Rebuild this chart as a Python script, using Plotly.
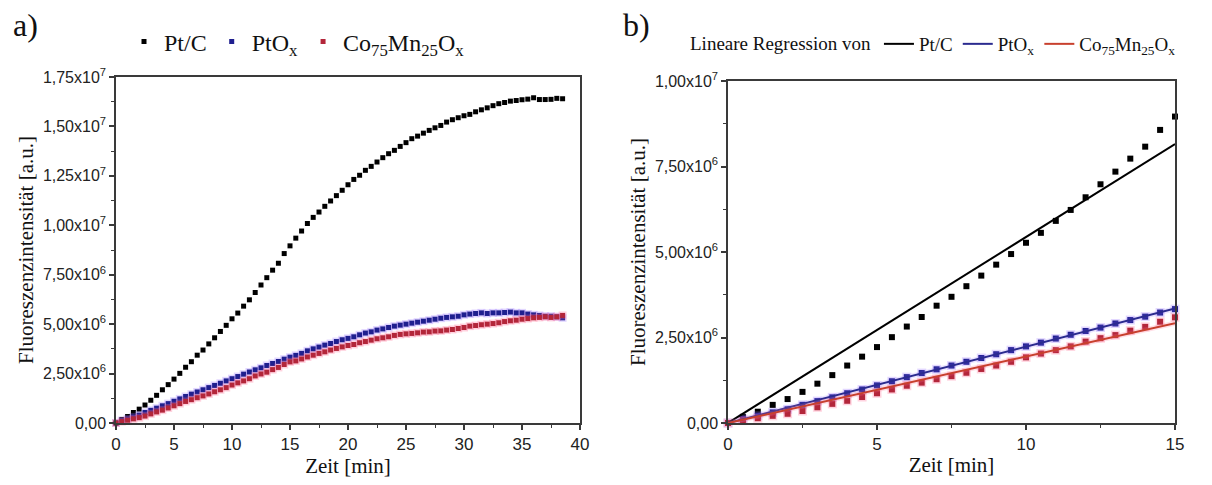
import plotly.graph_objects as go

# ---------------- data (intensities in units of 1e6 a.u.) ----------------
time_min = [0.0, 0.5, 1.0, 1.5, 2.0, 2.5, 3.0, 3.5, 4.0, 4.5,
            5.0, 5.5, 6.0, 6.5, 7.0, 7.5, 8.0, 8.5, 9.0, 9.5,
            10.0, 10.5, 11.0, 11.5, 12.0, 12.5, 13.0, 13.5, 14.0, 14.5,
            15.0, 15.5, 16.0, 16.5, 17.0, 17.5, 18.0, 18.5, 19.0, 19.5,
            20.0, 20.5, 21.0, 21.5, 22.0, 22.5, 23.0, 23.5, 24.0, 24.5,
            25.0, 25.5, 26.0, 26.5, 27.0, 27.5, 28.0, 28.5, 29.0, 29.5,
            30.0, 30.5, 31.0, 31.5, 32.0, 32.5, 33.0, 33.5, 34.0, 34.5,
            35.0, 35.5, 36.0, 36.5, 37.0, 37.5, 38.0, 38.5]

pt_c = [0.00, 0.18, 0.33, 0.53, 0.70, 0.91, 1.15, 1.40, 1.68, 1.94,
        2.22, 2.51, 2.82, 3.10, 3.43, 3.69, 4.00, 4.31, 4.63, 4.94,
        5.27, 5.56, 5.91, 6.23, 6.60, 6.98, 7.35, 7.73, 8.08, 8.57,
        8.96, 9.35, 9.71, 10.09, 10.40, 10.67, 10.96, 11.23, 11.50, 11.77,
        12.05, 12.32, 12.53, 12.78, 12.98, 13.20, 13.42, 13.62, 13.79, 13.99,
        14.18, 14.38, 14.51, 14.66, 14.80, 14.93, 15.05, 15.22, 15.34, 15.44,
        15.54, 15.61, 15.74, 15.84, 15.94, 16.05, 16.15, 16.21, 16.28, 16.31,
        16.35, 16.38, 16.45, 16.36, 16.36, 16.37, 16.42, 16.40]

pt_ox = [0.00, 0.12, 0.21, 0.31, 0.40, 0.53, 0.64, 0.75, 0.87, 0.98,
         1.10, 1.22, 1.34, 1.46, 1.57, 1.68, 1.79, 1.90, 2.01, 2.13,
         2.24, 2.35, 2.47, 2.58, 2.69, 2.79, 2.91, 3.01, 3.11, 3.23,
         3.33, 3.42, 3.52, 3.65, 3.75, 3.84, 3.94, 4.02, 4.12, 4.21,
         4.28, 4.36, 4.46, 4.55, 4.61, 4.70, 4.76, 4.83, 4.90, 4.95,
         5.00, 5.05, 5.10, 5.15, 5.20, 5.25, 5.30, 5.34, 5.37, 5.40,
         5.47, 5.51, 5.54, 5.57, 5.54, 5.57, 5.57, 5.59, 5.61, 5.57,
         5.57, 5.51, 5.47, 5.44, 5.40, 5.40, 5.37, 5.32]

co75_mn25_ox = [0.00, 0.07, 0.14, 0.21, 0.27, 0.35, 0.46, 0.56, 0.65, 0.76,
                0.87, 0.98, 1.09, 1.18, 1.28, 1.37, 1.47, 1.58, 1.68, 1.79,
                1.92, 2.03, 2.13, 2.24, 2.38, 2.48, 2.57, 2.70, 2.81, 2.96,
                3.09, 3.14, 3.24, 3.34, 3.43, 3.52, 3.60, 3.69, 3.77, 3.85,
                3.92, 3.97, 4.06, 4.12, 4.19, 4.26, 4.31, 4.36, 4.43, 4.48,
                4.51, 4.53, 4.56, 4.60, 4.61, 4.65, 4.66, 4.70, 4.73, 4.78,
                4.83, 4.90, 4.93, 4.97, 5.00, 5.03, 5.07, 5.13, 5.17, 5.20,
                5.25, 5.28, 5.32, 5.34, 5.37, 5.34, 5.37, 5.44]

series_names = ["Pt/C", "PtO<sub>x</sub>", "Co<sub>75</sub>Mn<sub>25</sub>O<sub>x</sub>"]
fit_window_max_min = 15.0

y_tickvals_a = [0, 2.5, 5, 7.5, 10, 12.5, 15, 17.5]
y_ticktext_a = ["0,00", "2,50x10<sup>6</sup>", "5,00x10<sup>6</sup>", "7,50x10<sup>6</sup>",
                "1,00x10<sup>7</sup>", "1,25x10<sup>7</sup>", "1,50x10<sup>7</sup>",
                "1,75x10<sup>7</sup>"]
y_tickvals_b = [0, 2.5, 5, 7.5, 10]
y_ticktext_b = ["0,00", "2,50x10<sup>6</sup>", "5,00x10<sup>6</sup>", "7,50x10<sup>6</sup>",
                "1,00x10<sup>7</sup>"]
x_tickvals_a = [0, 5, 10, 15, 20, 25, 30, 35, 40]
x_tickvals_b = [0, 5, 10, 15]

# ---------------- styling ----------------
marker_colors = ["#000000", "#1f1f8f", "#b3263a"]
halo_colors = [None, "rgba(150,110,255,0.28)", "rgba(255,110,150,0.30)"]
line_colors = ["#000000", "#2b2b8f", "#c8402e"]
line_halo = [None, "rgba(150,110,255,0.18)", "rgba(255,110,140,0.22)"]
AX = "#3a3a3a"
SERIF = "Liberation Serif"
SANS = "Liberation Sans"

fig = go.Figure()
all_series = [pt_c, pt_ox, co75_mn25_ox]

# panel b subset (t <= 15 min)
idx_b = [i for i, t in enumerate(time_min) if t <= fit_window_max_min]
t_b = [time_min[i] for i in idx_b]

# ---- panel a ----
for k, ys in enumerate(all_series):
    if halo_colors[k]:
        fig.add_trace(go.Scatter(x=time_min, y=ys, mode="markers", xaxis="x", yaxis="y",
                                 marker=dict(symbol="square", size=8, color=halo_colors[k]),
                                 showlegend=False, hoverinfo="skip", cliponaxis=False))
    fig.add_trace(go.Scatter(x=time_min, y=ys, mode="markers", name=series_names[k],
                             xaxis="x", yaxis="y", legend="legend",
                             marker=dict(symbol="square", size=5, color=marker_colors[k]),
                             cliponaxis=False))

# ---- panel b ----
for k, ys in enumerate(all_series):
    yb = [ys[i] for i in idx_b]
    if halo_colors[k]:
        fig.add_trace(go.Scatter(x=t_b, y=yb, mode="markers", xaxis="x2", yaxis="y2",
                                 marker=dict(symbol="square", size=9, color=halo_colors[k]),
                                 showlegend=False, hoverinfo="skip", cliponaxis=False))
    fig.add_trace(go.Scatter(x=t_b, y=yb, mode="markers", xaxis="x2", yaxis="y2",
                             marker=dict(symbol="square", size=6, color=marker_colors[k]),
                             showlegend=False, cliponaxis=False))

for k, ys in enumerate(all_series):
    yb = [ys[i] for i in idx_b]
    slope = sum(t * y for t, y in zip(t_b, yb)) / sum(t * t for t in t_b)  # fit through origin
    xs = [t_b[0], t_b[-1]]
    fit_y = [slope * x for x in xs]
    if line_halo[k]:
        fig.add_trace(go.Scatter(x=xs, y=fit_y, mode="lines", xaxis="x2", yaxis="y2",
                                 line=dict(color=line_halo[k], width=5),
                                 showlegend=False, hoverinfo="skip", cliponaxis=False))
    fig.add_trace(go.Scatter(x=xs, y=fit_y, mode="lines", name=series_names[k],
                             xaxis="x2", yaxis="y2", legend="legend2",
                             line=dict(color=line_colors[k], width=2), cliponaxis=False))


def axis(domain, rng, tickvals, ticktext, minor_dtick, anchor, title, standoff, tsize):
    d = dict(domain=domain, range=rng, anchor=anchor, tickmode="array", tickvals=tickvals,
             automargin=False,
             showline=True, mirror=True, linecolor=AX, linewidth=1.5,
             ticks="outside", ticklen=5, tickwidth=1.5, tickcolor=AX,
             showgrid=False, zeroline=False,
             tickfont=dict(family=SANS, size=tsize, color="#222222"),
             minor=dict(ticks="outside", ticklen=3, tickwidth=1.2, tickcolor=AX,
                        dtick=minor_dtick, tick0=0, showgrid=False),
             title=dict(text=title, font=dict(family=SERIF, size=21, color="#111111"),
                        standoff=standoff))
    if ticktext is not None:
        d["ticktext"] = ticktext
    return d


W, H = 1212, 485
OFF = 8  # page body margin: figure is drawn 8px right/down of the window origin


def px_x(x):
    return (x - OFF) / W


def px_y(y):
    return 1 - (y - OFF) / H


xa = [px_x(116), px_x(580)]
xb = [px_x(728), px_x(1175)]
ya = [px_y(423), px_y(77)]
yb_dom = [px_y(423), px_y(81)]

fig.update_layout(
    width=W, height=H,
    margin=dict(l=0, r=0, t=0, b=0, autoexpand=False),
    paper_bgcolor="white", plot_bgcolor="white",
    xaxis=axis(xa, [0, 40], x_tickvals_a, None, 2.5, "y", "Zeit [min]", 4, 17),
    yaxis=axis(ya, [0, 17.5], y_tickvals_a, y_ticktext_a, 1.25, "x",
               "Fluoreszenzintensität [a.u.]", 4, 16),
    xaxis2=axis(xb, [0, 15], x_tickvals_b, None, 2.5, "y2", "Zeit [min]", 4, 17),
    yaxis2=axis(yb_dom, [0, 10], y_tickvals_b, y_ticktext_b, 1.25, "x2",
                "Fluoreszenzintensität [a.u.]", 4, 16),
    legend=dict(orientation="h", x=px_x(124), y=px_y(42), xanchor="left", yanchor="middle",
                font=dict(family=SERIF, size=24, color="#111111"),
                bgcolor="rgba(0,0,0,0)", borderwidth=0),
    legend2=dict(orientation="h", x=px_x(688), y=px_y(44), xanchor="left", yanchor="middle",
                 font=dict(family=SERIF, size=19, color="#111111"),
                 title=dict(text="Lineare Regression von", side="left",
                            font=dict(family=SERIF, size=19, color="#111111")),
                 bgcolor="rgba(0,0,0,0)", borderwidth=0),
    annotations=[
        dict(text="a)", x=px_x(25), y=px_y(25), xref="paper", yref="paper",
             xanchor="center", yanchor="middle",
             showarrow=False, font=dict(family=SERIF, size=32, color="#111111")),
        dict(text="b)", x=px_x(636), y=px_y(25), xref="paper", yref="paper",
             xanchor="center", yanchor="middle",
             showarrow=False, font=dict(family=SERIF, size=32, color="#111111")),
    ],
    showlegend=True,
)

fig.write_html("out.html")
